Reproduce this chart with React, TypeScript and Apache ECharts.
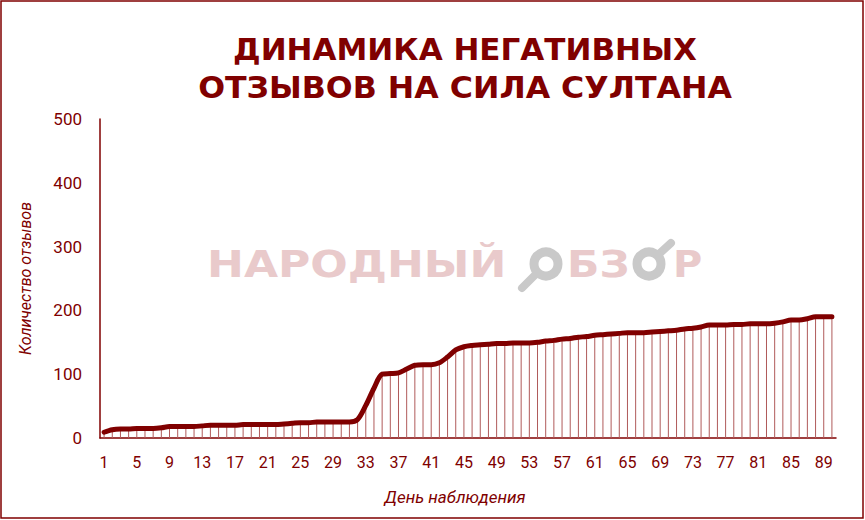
import React, { useEffect, useRef } from "react";
import * as echarts from "echarts";

const days: string[] = Array.from({ length: 90 }, (_, i) => String(i + 1));
const negativeReviews: number[] = [
  9, 13, 14, 14, 15, 15, 15, 16, 18, 18,
  18, 18, 19, 20, 20, 20, 20, 21, 21, 21,
  21, 21, 22, 23, 24, 24, 25, 25, 25, 25,
  25, 29, 51, 78, 100, 101, 102, 108, 114, 115,
  115, 118, 127, 138, 143, 145, 146, 147, 148, 148,
  149, 149, 149, 150, 152, 153, 155, 156, 158, 159,
  161, 162, 163, 164, 165, 165, 165, 166, 167, 168,
  169, 171, 172, 174, 177, 177, 177, 178, 178, 179,
  179, 179, 180, 182, 185, 185, 187, 190, 190, 190,
];
const titleLines: string[] = ["ДИНАМИКА НЕГАТИВНЫХ", "ОТЗЫВОВ НА СИЛА СУЛТАНА"];
const yAxisTitle = "Количество отзывов";
const xAxisTitle = "День наблюдения";

const MAROON = "#800000";
const PINK = "#e9cacb";
const GRAY = "#c9c9c9";

export default function App() {
  const ref = useRef<HTMLDivElement>(null);
  useEffect(() => {
    document.body.style.margin = "0";
    if (!ref.current) return;
    const chart = echarts.init(ref.current, undefined, { renderer: "svg" });
    const titleFont = "bold 31px 'DejaVu Sans'";
    const wmFont = "bold 38px 'DejaVu Sans'";
    chart.setOption({
      animation: false,
      backgroundColor: "#ffffff",
      grid: { left: 100, right: 29, top: 119, bottom: 82 },
      graphic: [
        {
          type: "rect",
          shape: { x: 1, y: 1, width: 862, height: 517 },
          style: { fill: "none", stroke: MAROON, lineWidth: 1.5 },
          z: 100,
        },
        {
          type: "text",
          x: 465,
          y: 49,
          style: { text: titleLines[0], font: titleFont, fill: MAROON, textAlign: "center", textVerticalAlign: "middle" },
        },
        {
          type: "text",
          x: 465,
          y: 87,
          scaleX: 1.02,
          style: { text: titleLines[1], font: titleFont, fill: MAROON, textAlign: "center", textVerticalAlign: "middle" },
        },
        // watermark
        {
          type: "group",
          z: -10,
          children: [
            {
              type: "text",
              x: 207,
              y: 264,
              scaleX: 1.16,
              style: { text: "НАРОДНЫЙ", font: wmFont, fill: PINK, textAlign: "left", textVerticalAlign: "middle" },
            },
            {
              type: "line",
              shape: { x1: 536, y1: 274, x2: 522, y2: 288 },
              style: { stroke: GRAY, lineWidth: 8, lineCap: "round" },
            },
            {
              type: "circle",
              shape: { cx: 546, cy: 264, r: 12 },
              style: { fill: "none", stroke: GRAY, lineWidth: 9 },
            },
            {
              type: "text",
              x: 567,
              y: 264,
              scaleX: 1.12,
              style: { text: "БЗ", font: wmFont, fill: PINK, textAlign: "left", textVerticalAlign: "middle" },
            },
            {
              type: "line",
              shape: { x1: 659, y1: 254, x2: 671, y2: 243 },
              style: { stroke: GRAY, lineWidth: 8, lineCap: "round" },
            },
            {
              type: "circle",
              shape: { cx: 649, cy: 264, r: 12 },
              style: { fill: "none", stroke: GRAY, lineWidth: 9 },
            },
            {
              type: "text",
              x: 673,
              y: 264,
              scaleX: 1.05,
              style: { text: "Р", font: wmFont, fill: PINK, textAlign: "left", textVerticalAlign: "middle" },
            },
          ],
        },
      ],
      xAxis: {
        type: "category",
        data: days,
        boundaryGap: true,
        name: xAxisTitle,
        nameLocation: "middle",
        nameGap: 50,
        nameTextStyle: { color: MAROON, fontStyle: "italic", fontSize: 17, fontFamily: "Roboto", padding: [0, 26, 0, 0] },
        axisLine: { show: true, lineStyle: { color: MAROON, width: 1.5 } },
        axisTick: { show: false },
        axisLabel: { interval: 3, color: MAROON, fontSize: 16, fontFamily: "Roboto", margin: 16 },
        splitLine: { show: false },
      },
      yAxis: {
        type: "value",
        min: 0,
        max: 500,
        interval: 100,
        name: yAxisTitle,
        nameLocation: "middle",
        nameRotate: 90,
        nameGap: 67,
        nameTextStyle: { color: MAROON, fontStyle: "italic", fontSize: 16, fontFamily: "Roboto" },
        axisLine: { show: true, lineStyle: { color: MAROON, width: 1.5 } },
        axisTick: { show: false },
        axisLabel: { color: MAROON, fontSize: 17, fontFamily: "Roboto", margin: 18 },
        splitLine: { show: false },
      },
      series: [
        {
          type: "bar",
          data: negativeReviews,
          barWidth: 1,
          itemStyle: { color: "#b05a5a" },
          silent: true,
          z: 1,
        },
        {
          type: "line",
          data: negativeReviews,
          smooth: 0.3,
          showSymbol: false,
          symbol: "none",
          lineStyle: { color: MAROON, width: 5, cap: "round", join: "round" },
          z: 3,
        },
      ],
    });
    return () => chart.dispose();
  }, []);
  return <div ref={ref} style={{ width: 865, height: 520 }} />;
}
